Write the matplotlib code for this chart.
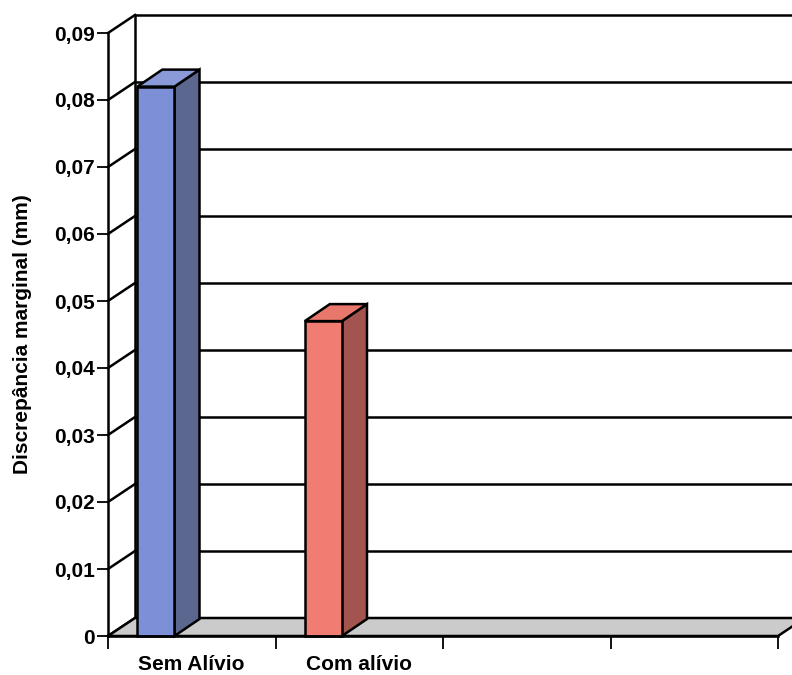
import matplotlib
matplotlib.use("Agg")
import matplotlib.pyplot as plt
from matplotlib.patches import Polygon
from matplotlib.ticker import FixedLocator, FixedFormatter

plt.rcParams['font.family'] = ['Liberation Sans', 'DejaVu Sans']

# data
categories = ["Sem Alívio", "Com alívio"]
values = [0.082, 0.047]
n_slots = 4
yticks = [0, 0.01, 0.02, 0.03, 0.04, 0.05, 0.06, 0.07, 0.08, 0.09]
ytick_labels = ["0", "0,01", "0,02", "0,03", "0,04", "0,05", "0,06", "0,07", "0,08", "0,09"]
ylabel = "Discrepância marginal (mm)"

front_colors = ["#7d8fd6", "#f07c72"]
side_colors = ["#5c678f", "#a3544e"]
top_colors = ["#8a9ad8", "#e8786c"]

# 3D look: offset of the back wall (in data units)
DX = 27 / 167.5
DY = 18 / (603 / 0.09)
BDX = 25 / 167.5
BDY = 17 / (603 / 0.09)
bar_start = 0.175
bar_w = 0.222

W, H = 792, 675
fig = plt.figure(figsize=(W / 100, H / 100), dpi=100)
ax = fig.add_axes([108 / W, (H - 636) / H, (778 - 108) / W, (636 - 33) / H])
ax.set_xlim(0, n_slots)
ax.set_ylim(0, 0.09)
ax.patch.set_visible(False)

lw = 1.8
top = yticks[-1]

# back wall gridlines and left wall diagonals
for v in yticks:
    ax.plot([DX, n_slots + DX + 1], [v + DY, v + DY], color="black", lw=lw,
            clip_on=False, zorder=1, solid_capstyle="butt")
    ax.plot([0, DX], [v, v + DY], color="black", lw=lw, clip_on=False, zorder=1)
ax.plot([DX, DX], [DY, top + DY], color="black", lw=lw, clip_on=False, zorder=1)

# floor
floor = Polygon([(0, 0), (n_slots, 0), (n_slots + DX, DY), (DX, DY)], closed=True,
                facecolor="#cbcbcb", edgecolor="black", lw=lw, clip_on=False, zorder=2)
ax.add_patch(floor)

# bars
for i, v in enumerate(values):
    x0 = i + bar_start
    x1 = x0 + bar_w
    front = Polygon([(x0, 0), (x1, 0), (x1, v), (x0, v)], closed=True,
                    facecolor=front_colors[i], edgecolor="black", lw=lw, clip_on=False, zorder=4)
    side = Polygon([(x1, 0), (x1 + BDX, BDY), (x1 + BDX, v + BDY), (x1, v)], closed=True,
                   facecolor=side_colors[i], edgecolor="black", lw=lw, clip_on=False, zorder=3)
    cap = Polygon([(x0, v), (x1, v), (x1 + BDX, v + BDY), (x0 + BDX, v + BDY)], closed=True,
                  facecolor=top_colors[i], edgecolor="black", lw=lw, clip_on=False, zorder=3)
    ax.add_patch(side)
    ax.add_patch(cap)
    ax.add_patch(front)

# axes
for s in ["top", "right"]:
    ax.spines[s].set_visible(False)
for s in ["left", "bottom"]:
    ax.spines[s].set_linewidth(lw)
    ax.spines[s].set_zorder(5)

ax.set_yticks(yticks)
ax.set_yticklabels(ytick_labels, fontsize=15, fontweight="bold")
ax.tick_params(axis="y", length=8, width=1.3, pad=1.5)

ax.xaxis.set_major_locator(FixedLocator(range(n_slots + 1)))
ax.xaxis.set_major_formatter(FixedFormatter([""] * (n_slots + 1)))
ax.xaxis.set_minor_locator(FixedLocator([i + 0.5 for i in range(len(categories))]))
ax.xaxis.set_minor_formatter(FixedFormatter(categories))
ax.tick_params(axis="x", which="major", length=9, width=1.3)
ax.tick_params(axis="x", which="minor", length=0, pad=14, labelsize=15)
for t in ax.xaxis.get_minorticklabels():
    t.set_fontweight("bold")

ax.set_ylabel(ylabel, fontsize=15, fontweight="bold", labelpad=16)

fig.savefig("out.png", dpi=100)
